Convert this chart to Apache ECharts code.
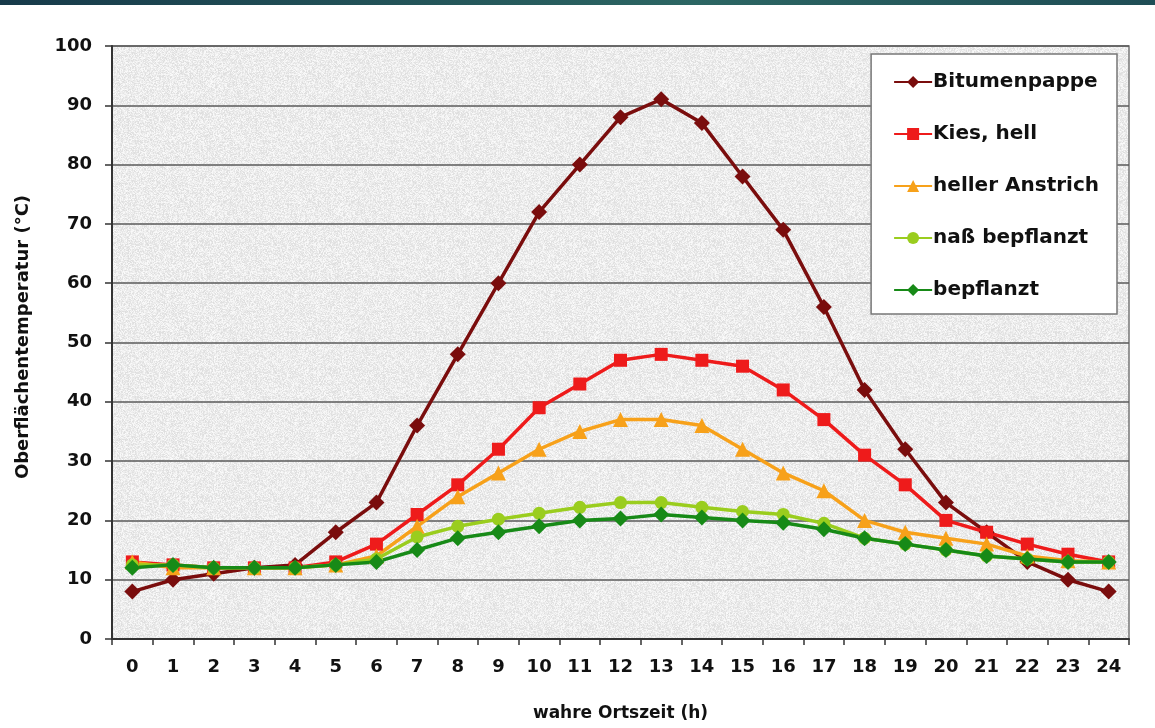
<!DOCTYPE html>
<html><head><meta charset="utf-8">
<script src="https://cdn.jsdelivr.net/npm/echarts@6/dist/echarts.min.js"></script>
<style>
html,body{margin:0;padding:0;background:#fff;}
#bar{position:absolute;left:0;top:0;width:1155px;height:5px;background:linear-gradient(90deg,#173a4a,#2c6663 60%,#1f4d55);}
#c{position:absolute;left:0;top:0;width:1155px;height:728px;}
</style></head>
<body>
<div id="c"></div><div id="bar"></div>
<script>
const hours = ['0','1','2','3','4','5','6','7','8','9','10','11','12','13','14','15','16','17','18','19','20','21','22','23','24'];
const bitumenpappe = [8,10,11,12,12.5,18,23,36,48,60,72,80,88,91,87,78,69,56,42,32,23,18,13,10,8];
const kiesHell = [13,12.5,12,12,12,13,16,21,26,32,39,43,47,48,47,46,42,37,31,26,20,18,16,14.3,13];
const hellerAnstrich = [13,12,12,12,12,12.5,14,19,24,28,32,35,37,37,36,32,28,25,20,18,17,16,14,13.2,13];
const nassBepflanzt = [12.5,12.5,12,12,12,12.5,13.5,17.2,19,20.2,21.2,22.2,23,23,22.2,21.5,21,19.5,17,16,15,14,13.5,13,13];
const bepflanzt = [12,12.5,12,12,12,12.5,13,15,17,18,19,20,20.3,21,20.5,20,19.6,18.5,17,16,15,14,13.5,13,13];
const yTicks = [0,10,20,30,40,50,60,70,80,90,100];
const seriesNames = ['Bitumenpappe','Kies, hell','heller Anstrich','naß bepflanzt','bepflanzt'];
const yTitle = 'Oberflächentemperatur (°C)';
const xTitle = 'wahre Ortszeit (h)';

// texture for plot background
const tex = document.createElement('canvas');
tex.width = 128; tex.height = 128;
const tctx = tex.getContext('2d');
const img = tctx.createImageData(128,128);
for (let y=0;y<128;y++) for (let x=0;x<128;x++){
  const h = Math.sin(x*12.9898 + y*78.233) * 43758.5453;
  const f = h - Math.floor(h);
  const v = Math.round(221 + f*30);
  const i = (y*128+x)*4;
  img.data[i]=v; img.data[i+1]=v; img.data[i+2]=v; img.data[i+3]=255;
}
tctx.putImageData(img,0,0);

const FONT = 'DejaVu Sans, Liberation Sans, sans-serif';
const chart = echarts.init(document.getElementById('c'));
const mk = (name, data, color, symbol, size) => ({
  name, type:'line', data, symbol, symbolSize:size,
  lineStyle:{color, width:3.5}, itemStyle:{color},
  emphasis:{disabled:true}, z: 2
});
chart.setOption({
  animation:false,
  backgroundColor:'#fff',
  textStyle:{fontFamily:FONT},
  grid:{left:112, right:26, top:46, bottom:89, show:true,
    backgroundColor:{image:tex, repeat:'repeat'}, borderColor:'#777', borderWidth:1.5},
  legend:{
    orient:'vertical', right:38, top:54,
    backgroundColor:'#fff', borderColor:'#777', borderWidth:1.5,
    padding:[17,18,13,22], itemGap:30, itemWidth:38, itemHeight:15,
    textStyle:{fontFamily:FONT, fontSize:20, fontWeight:'bold', color:'#111', lineHeight:22, padding:[0,0,0,-4]},
    data:seriesNames
  },
  graphic:[{
    type:'text', x:23, y:337, rotation:Math.PI/2,
    style:{text:yTitle, font:'bold 18px '+FONT, fill:'#111', align:'center', verticalAlign:'middle'}
  }],
  xAxis:{
    type:'category', data:hours, boundaryGap:true,
    name:xTitle, nameLocation:'middle', nameGap:66,
    nameTextStyle:{fontSize:17, fontWeight:'bold', color:'#111', fontFamily:FONT},
    axisLine:{lineStyle:{color:'#333', width:2}},
    axisTick:{show:true, alignWithLabel:false, length:6, lineStyle:{color:'#333', width:1.5}},
    axisLabel:{fontSize:18, fontWeight:'bold', color:'#111', margin:19, fontFamily:FONT}
  },
  yAxis:{
    type:'value', min:0, max:100, interval:10,
    axisLine:{show:true, lineStyle:{color:'#333', width:2}},
    axisTick:{show:true, length:7, lineStyle:{color:'#333', width:1.5}},
    axisLabel:{fontSize:18, fontWeight:'bold', color:'#111', margin:20, fontFamily:FONT,
      formatter: v => yTicks.includes(v) ? String(v) : ''},
    splitLine:{lineStyle:{color:'#5a5a5a', width:1.6}}
  },
  series:[
    mk(seriesNames[0], bitumenpappe, '#7a0d0d', 'diamond', 16),
    mk(seriesNames[1], kiesHell, '#ee1b1b', 'rect', 13),
    mk(seriesNames[2], hellerAnstrich, '#f7a11a', 'triangle', 15),
    mk(seriesNames[3], nassBepflanzt, '#9acd1e', 'circle', 13),
    mk(seriesNames[4], bepflanzt, '#178a17', 'diamond', 16)
  ]
});
</script>
</body></html>
